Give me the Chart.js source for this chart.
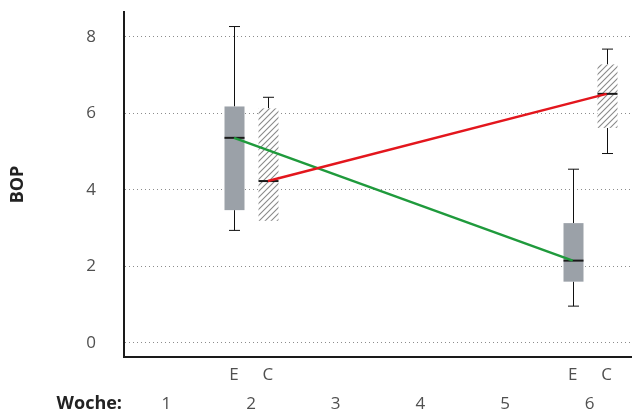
<!DOCTYPE html>
<html>
<head>
<meta charset="utf-8">
<script src="https://cdn.jsdelivr.net/npm/chart.js@4"></script>
<style>
  body { margin: 0; background: #fff; }
  #wrap { width: 632px; height: 412px; }
</style>
</head>
<body>
<div id="wrap"><canvas id="bopChart" width="632" height="412"></canvas></div>
<script>
// week axis + group labels
const weeks = [1, 2, 3, 4, 5, 6];
const yTicks = [0, 2, 4, 6, 8];
const groups = ['E', 'C'];

// box plot values, one entry per box
const boxWeeks = [2, 2, 6, 6];
const boxGroups = ['E', 'C', 'E', 'C'];
const boxMin = [2.94, 3.19, 0.96, 4.95];
const boxQ1 = [3.47, 3.19, 1.60, 5.62];
const boxMedian = [5.36, 4.23, 2.15, 6.51];
const boxQ3 = [6.18, 6.13, 3.13, 7.28];
const boxMax = [8.27, 6.42, 4.54, 7.68];

// offset of each group from the week tick (x units)
const groupOffset = { E: -0.2, C: 0.2 };

const textColor = '#505050';
const fontFamily = "'Open Sans', 'Noto Sans', sans-serif";
const tickFont = { family: fontFamily, size: 17, lineHeight: 1 };

function medianLine(group) {
  const pts = [];
  for (let i = 0; i < boxWeeks.length; i++) {
    if (boxGroups[i] === group) {
      pts.push({ x: boxWeeks[i] + groupOffset[group], y: boxMedian[i] });
    }
  }
  return pts;
}

function makeHatch() {
  const c = document.createElement('canvas');
  c.width = 6;
  c.height = 6;
  const g = c.getContext('2d');
  g.strokeStyle = '#8a8a8a';
  g.lineWidth = 1.1;
  g.beginPath();
  g.moveTo(0, 6); g.lineTo(6, 0);
  g.moveTo(-1, 1); g.lineTo(1, -1);
  g.moveTo(5, 7); g.lineTo(7, 5);
  g.stroke();
  return g.createPattern(c, 'repeat');
}

// draws the boxes, whiskers and E/C + "Woche:" labels
const boxPlugin = {
  id: 'boxes',
  beforeDatasetsDraw(chart) {
    const ctx = chart.ctx;
    const xs = chart.scales.x;
    const ys = chart.scales.y;
    const hatch = makeHatch();
    const half = 10;
    const cap = 5.5;

    for (let i = 0; i < boxWeeks.length; i++) {
      const cx = Math.round(xs.getPixelForValue(boxWeeks[i] + groupOffset[boxGroups[i]])) + 0.5;
      const yMin = ys.getPixelForValue(boxMin[i]);
      const yQ1 = ys.getPixelForValue(boxQ1[i]);
      const yMed = ys.getPixelForValue(boxMedian[i]);
      const yQ3 = ys.getPixelForValue(boxQ3[i]);
      const yMax = ys.getPixelForValue(boxMax[i]);

      ctx.save();
      // whiskers
      ctx.strokeStyle = '#111';
      ctx.lineWidth = 1;
      ctx.beginPath();
      ctx.moveTo(cx, yMax); ctx.lineTo(cx, yQ3);
      ctx.moveTo(cx - cap, yMax); ctx.lineTo(cx + cap, yMax);
      if (yMin - yQ1 > 1) {
        ctx.moveTo(cx, yQ1); ctx.lineTo(cx, yMin);
        ctx.moveTo(cx - cap, yMin); ctx.lineTo(cx + cap, yMin);
      }
      ctx.stroke();

      // box
      ctx.fillStyle = boxGroups[i] === 'E' ? '#9ba1a8' : '#fff';
      ctx.fillRect(cx - half, yQ3, half * 2, yQ1 - yQ3);
      if (boxGroups[i] === 'C') {
        ctx.fillStyle = hatch;
        ctx.fillRect(cx - half, yQ3, half * 2, yQ1 - yQ3);
      }

      // median
      ctx.strokeStyle = '#1a1a1a';
      ctx.lineWidth = 2;
      ctx.beginPath();
      ctx.moveTo(cx - half, yMed);
      ctx.lineTo(cx + half, yMed);
      ctx.stroke();
      ctx.restore();
    }
  },
  afterDraw(chart) {
    const ctx = chart.ctx;
    const xs = chart.scales.x;
    ctx.save();
    ctx.font = "17px " + fontFamily;
    ctx.fillStyle = textColor;
    ctx.textAlign = 'center';
    ctx.textBaseline = 'middle';
    [2, 6].forEach(function (w) {
      groups.forEach(function (g) {
        ctx.fillText(g, xs.getPixelForValue(w + groupOffset[g]), 375);
      });
    });
    ctx.font = "bold 18px " + fontFamily;
    ctx.fillStyle = '#222';
    ctx.textAlign = 'right';
    ctx.fillText('Woche:', 122, 404);
    ctx.restore();
  }
};

document.addEventListener("DOMContentLoaded", function () {
  const ctx = document.getElementById("bopChart").getContext("2d");

  new Chart(ctx, {
    type: 'line',
    data: {
      datasets: [
        {
          label: 'C',
          data: medianLine('C'),
          borderColor: '#e3161d',
          borderWidth: 2.5,
          pointRadius: 0
        },
        {
          label: 'E',
          data: medianLine('E'),
          borderColor: '#1f9a3c',
          borderWidth: 2.5,
          pointRadius: 0
        }
      ]
    },
    options: {
      responsive: false,
      animation: false,
      layout: { padding: { top: 12, right: 0, bottom: 0, left: 0 } },
      plugins: {
        legend: { display: false },
        tooltip: { enabled: false }
      },
      scales: {
        x: {
          type: 'linear',
          min: 0.5,
          max: 6.5,
          afterBuildTicks: function (scale) {
            scale.ticks = weeks.map(function (v) { return { value: v }; });
          },
          afterFit: function (scale) {
            scale.height = 55;
            scale.paddingLeft = 0;
            scale.paddingRight = 0;
          },
          ticks: { color: textColor, font: tickFont, padding: 38.5, maxRotation: 0 },
          grid: { display: false, drawTicks: false },
          border: { display: true, color: '#1a1a1a', width: 2 }
        },
        y: {
          min: -0.37,
          max: 8.65,
          afterBuildTicks: function (scale) {
            scale.ticks = yTicks.map(function (v) { return { value: v }; });
          },
          afterFit: function (scale) {
            scale.width = 124;
            scale.paddingTop = 0;
            scale.paddingBottom = 0;
          },
          ticks: { color: textColor, font: tickFont, padding: 28 },
          grid: { color: '#8c8c8c', lineWidth: 1, drawTicks: false },
          border: { display: true, color: '#1a1a1a', width: 2, dash: [1, 3] },
          title: {
            display: true,
            text: 'BOP',
            color: '#222',
            font: { family: fontFamily, size: 18, weight: 'bold', lineHeight: 1.2 },
            padding: { top: 7, bottom: 0 }
          }
        }
      }
    },
    plugins: [boxPlugin]
  });
});
</script>
</body>
</html>
